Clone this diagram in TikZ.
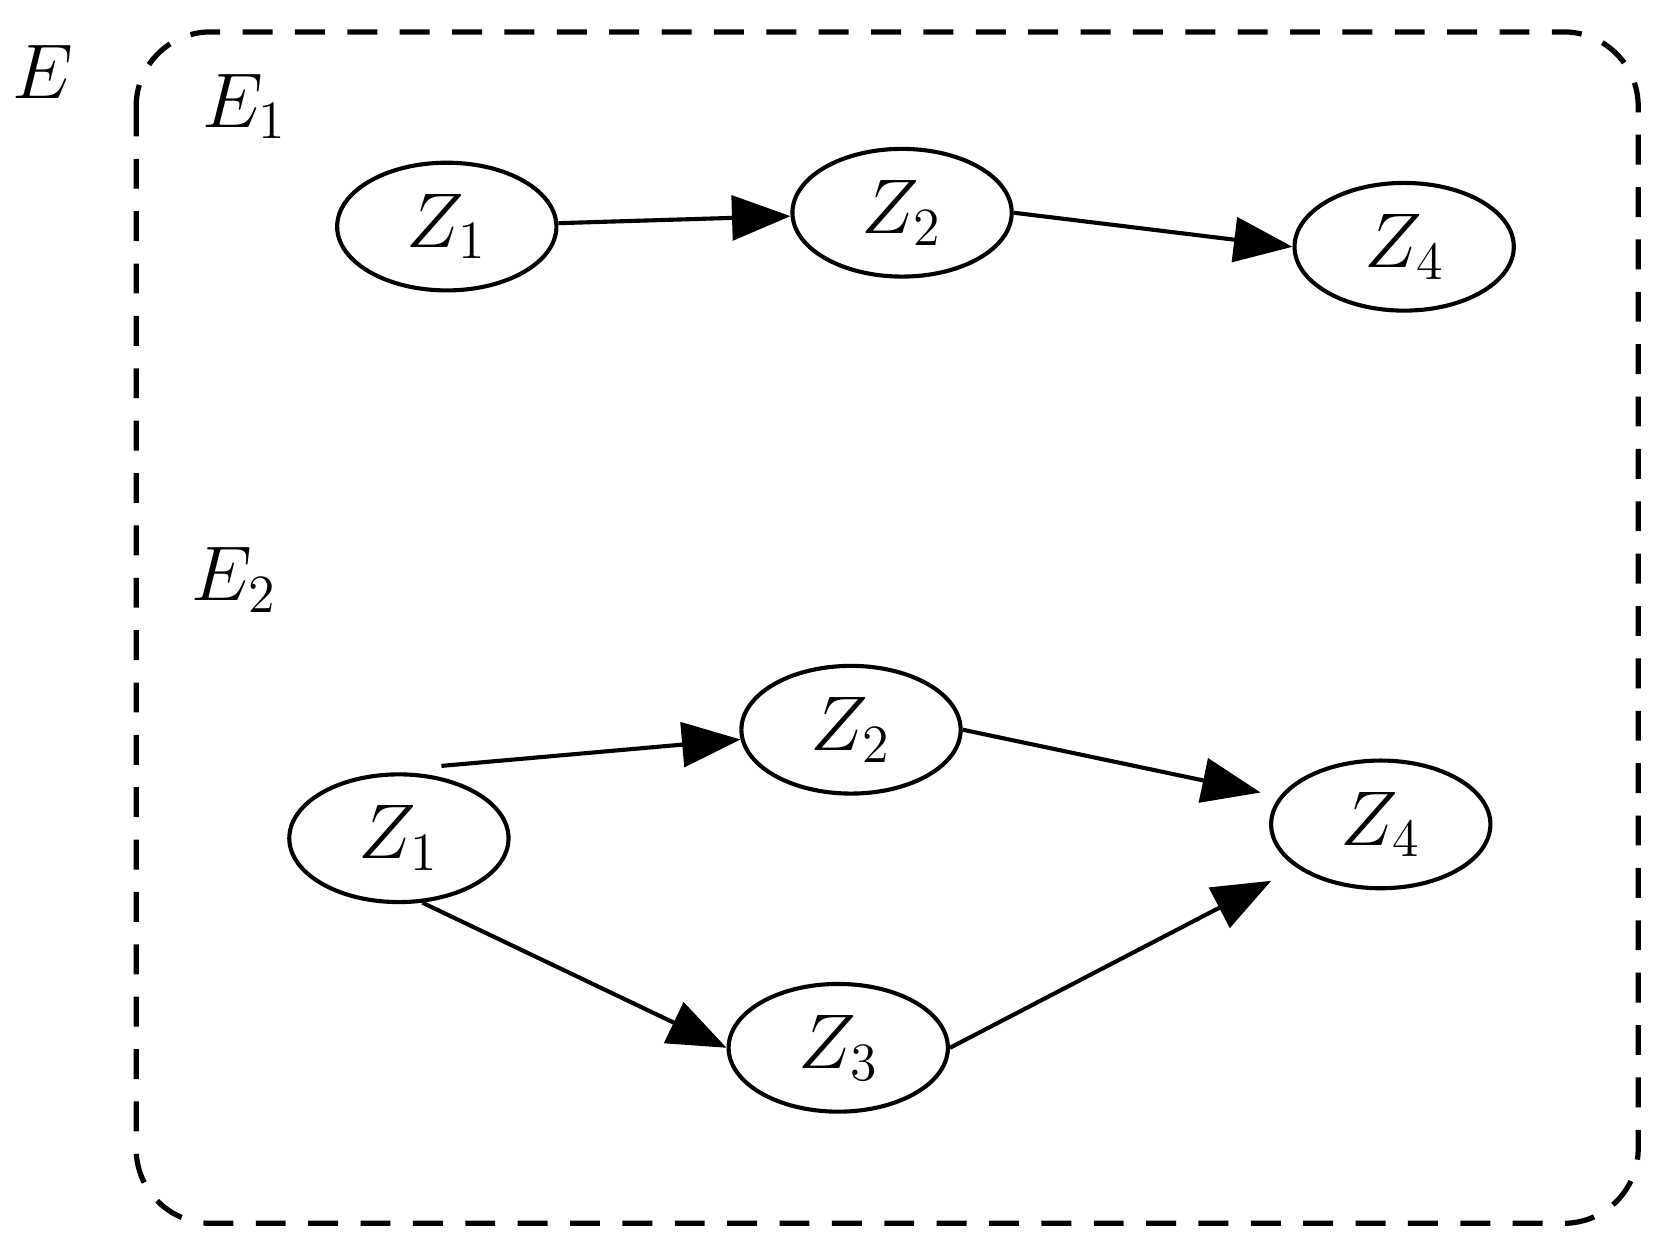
\documentclass[tikz,border=0pt]{standalone}
\usetikzlibrary{arrows.meta,shapes.geometric}
\begin{document}
\begin{tikzpicture}[x=0.01cm,y=-0.01cm,
  zn/.style={draw,ellipse,line width=1.1pt,minimum width=2.06cm,minimum height=1.2cm,inner sep=0pt,font=\fontsize{20}{24}\selectfont},
  arr/.style={line width=1.1pt,-{Triangle[length=0.55cm,width=0.42cm]}},
  lab/.style={font=\fontsize{20}{24}\selectfont}]
\useasboundingbox (0,0) rectangle (1568,1177);
\draw[line width=1.4pt,dash pattern=on 8pt off 6pt,rounded corners=0.7cm] (128,30) rectangle (1540,1150);
\node[lab] (E) at (40,68) {$E$};
\node[lab] (E1) at (230,100) {$E_1$};
\node[lab] (E2) at (220,545) {$E_2$};
\node[zn] (a1) at (420,213) {$Z_1$};
\node[zn] (a2) at (848,200) {$Z_2$};
\node[zn] (a4) at (1320,232) {$Z_4$};
\node[zn] (b2) at (800,686) {$Z_2$};
\node[zn] (b1) at (375,788) {$Z_1$};
\node[zn] (b4) at (1298,775) {$Z_4$};
\node[zn] (b3) at (788,985) {$Z_3$};
\coordinate (s) at (415,720);
\coordinate (t1) at (1185,745);
\coordinate (t2) at (1195,828);
\draw[arr] (a1) -- (a2);
\draw[arr] (a2.east) -- (a4.west);
\draw[arr] (s) -- (b2);
\draw[arr] (b2.east) -- (t1);
\draw[arr] (b1.-70) -- (b3.west);
\draw[arr] (b3.east) -- (t2);
\end{tikzpicture}
\end{document}
